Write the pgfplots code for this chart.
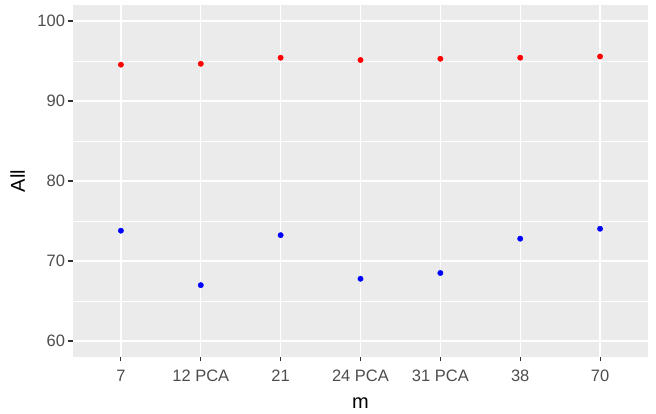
\documentclass[border=0pt]{standalone}
\usepackage{pgfplots}
\pgfplotsset{compat=1.18}
\usepackage{fontspec}
\setmainfont{Liberation Sans}
\definecolor{panelbg}{HTML}{EBEBEB}
\definecolor{grey30}{HTML}{4D4D4D}
\definecolor{grey20}{HTML}{333333}
\begin{document}
\begin{tikzpicture}[x=1pt,y=1pt]
\path[use as bounding box] (0,0) rectangle (656,414);
\begin{axis}[
  at={(73pt,57pt)}, anchor=south west,
  width=575pt, height=352pt, scale only axis,
  xmin=-0.6, xmax=6.6, ymin=58, ymax=102,
  xtick={0,1,2,3,4,5,6},
  xticklabels={7,12 PCA,21,24 PCA,31 PCA,38,70},
  ytick={60,70,80,90,100},
  minor ytick={65,75,85,95},
  xmajorgrids, ymajorgrids, yminorgrids,
  major grid style={white, line width=1.4pt},
  minor grid style={white, line width=0.7pt},
  axis background/.style={fill=panelbg},
  axis line style={draw=none},
  tick align=outside,
  major tick length=4.5pt, minor tick length=0pt,
  xtick pos=lower, ytick pos=left,
  tick style={grey20, line width=1.1pt},
  ticklabel style={font=\fontsize{16.5}{19}\selectfont, text=grey30},
  xticklabel style={yshift=-5pt},
  /pgf/number format/assume math mode=true,
  xlabel={m}, ylabel={All},
  label style={font=\fontsize{20}{23}\selectfont, text=black},
  xlabel style={at={(axis description cs:0.5,0)}, anchor=base, yshift=-52pt},
  ylabel style={at={(axis description cs:0,0.5)}, anchor=base, yshift=48pt},
]
\addplot[only marks, mark=*, mark size=2.7pt, red] coordinates {
(0,94.54) (1,94.65) (2,95.41) (3,95.12) (4,95.28) (5,95.41) (6,95.56)};
\addplot[only marks, mark=*, mark size=2.7pt, blue] coordinates {
(0,73.79) (1,66.98) (2,73.23) (3,67.78) (4,68.5) (5,72.79) (6,74.03)};
\end{axis}
\end{tikzpicture}
\end{document}
